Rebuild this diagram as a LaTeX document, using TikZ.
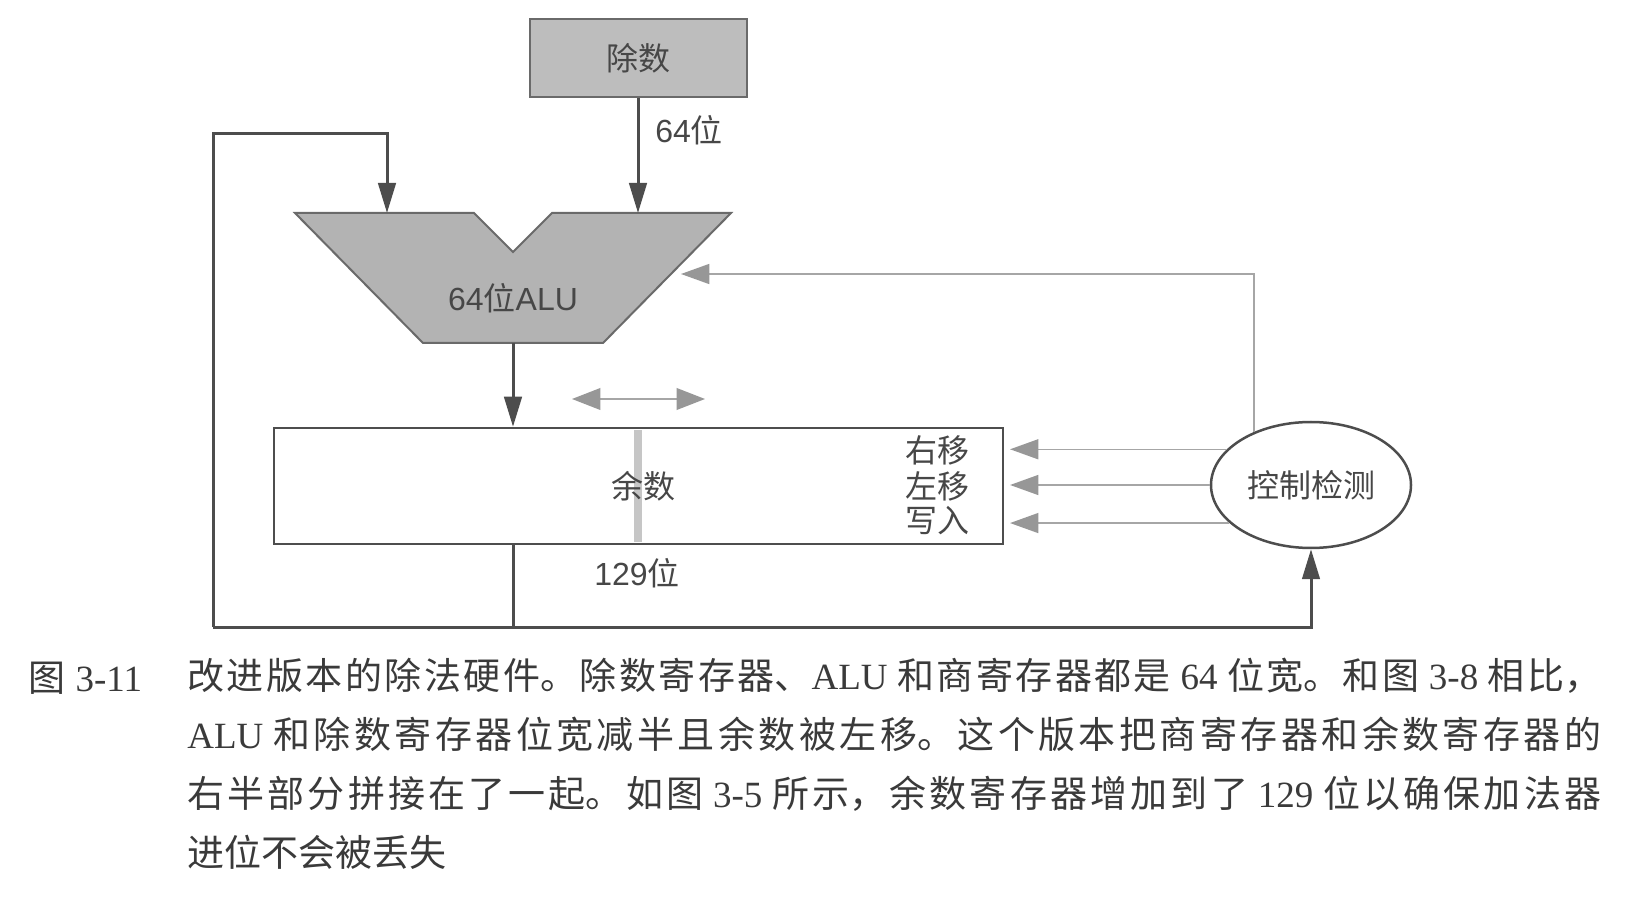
\documentclass[tikz,border=0pt]{standalone}
\usepackage{fontspec}
\setmainfont{Liberation Sans}
\newfontfamily\cjk{Noto Sans CJK SC}
\newfontfamily\ser{Liberation Serif}
\usetikzlibrary{arrows.meta,shapes.geometric}
\XeTeXlinebreaklocale "zh"
\XeTeXlinebreakskip=0pt plus 5pt
\definecolor{dk}{HTML}{4D4D4D}
\definecolor{edge}{HTML}{6A6A6A}
\definecolor{lt}{HTML}{A6A6A6}
\definecolor{ah}{HTML}{979797}
\definecolor{divfill}{HTML}{BDBDBD}
\definecolor{alufill}{HTML}{B3B3B3}
\definecolor{txt}{HTML}{474747}
\definecolor{barc}{HTML}{C6C6C6}
\definecolor{capc}{HTML}{3A3A3A}
\newcommand\zh[1]{{\cjk #1}}
\newcommand\se[1]{{\ser #1}}
\begin{document}
\begin{tikzpicture}[x=0.6pt,y=-0.6pt,
  dkline/.style={draw=dk,line width=1.8pt},
  ltline/.style={draw=lt,line width=0.9pt},
  dtip/.style={arrows={-Triangle[length=18pt,width=10.5pt]}},
  gtip/.style={arrows={-Triangle[length=17pt,width=12pt,color=ah]}},
  gboth/.style={arrows={Triangle[length=17pt,width=13pt,color=ah]-Triangle[length=17pt,width=13pt,color=ah]}},
  lbl/.style={text=txt,font=\fontsize{19.2pt}{22pt}\selectfont,inner sep=0pt},
]
\useasboundingbox[fill=white] (0,0) rectangle (1630,898);

% divisor
\node[lbl,draw=edge,line width=1.2pt,fill=divfill,minimum width=130.2pt,minimum height=46.8pt] (div) at (638,58) {\zh{除数}};
\node[lbl,anchor=west] (w64) at (655,130) {64\zh{位}};

% ALU
\path[draw=edge,line width=1.2pt,fill=alufill] (295,213) -- (474,213) -- (513,252) -- (552,213) -- (731,213) -- (603,343) -- (423,343) -- cycle;
\node[lbl] (alu) at (513,298) {64\zh{位}ALU};
\coordinate (aluin1) at (387,213);
\coordinate (aluin2) at (638,213);
\coordinate (aluout) at (513,343);
\coordinate (aluctl) at (681,274);

% remainder register
\node[draw=dk,line width=1.5pt,minimum width=437.4pt,minimum height=69.6pt,inner sep=0pt] (reg) at (638.5,486) {};
\fill[barc] (634,430) rectangle (642,542);
\node[lbl] (rem) at (643,486) {\zh{余数}};
\node[lbl] (w129) at (637,573) {129\zh{位}};
\node[lbl,anchor=east] (rs) at (970,450) {\zh{右移}};
\node[lbl,anchor=east] (ls) at (970,486) {\zh{左移}};
\node[lbl,anchor=east] (wr) at (970,521) {\zh{写入}};

% shift arrow
\coordinate (sl) at (572,399);
\coordinate (sr) at (705,399);
\draw[ltline,gboth] (sl) -- (sr);

% control
\node[lbl,ellipse,draw=dk,line width=1.5pt,minimum width=120pt,minimum height=75.6pt] (ctl) at (1311,485) {\zh{控制检测}};

% connectors
\coordinate (bl) at (213,627);
\coordinate (tl) at (213,134);
\coordinate (bm) at (513,627);
\draw[dkline,dtip] (div.south -| aluin2) -- (aluin2);
\draw[dkline,dtip] (bl) -- (tl) -| (aluin1);
\draw[dkline,dtip] (aluout) -- (aluout |- reg.north);
\draw[dkline] (aluout |- reg.south) -- (bm);
\draw[dkline,dtip] (bl) -| (ctl.south);
\draw[ltline,gtip] (ctl.137) |- (aluctl);
\draw[ltline,gtip,shorten >=3.5pt] (ctl.157) -- (reg.east |- ctl.157);
\draw[ltline,gtip,shorten >=3.5pt] (ctl.west) -- (reg.east |- ctl.west);
\draw[ltline,gtip,shorten >=3.5pt] (ctl.205) -- (reg.east |- ctl.205);

% caption
\node[anchor=base west,inner sep=0pt,text=capc,font=\fontsize{22.2pt}{35.4pt}\selectfont] (fig) at (28,691) {\zh{图} \se{3-11}};
\node[anchor=north west,inner sep=0pt,text width=848.4pt,align=justify,text=capc,font=\cjk\fontsize{22.2pt}{35.4pt}\selectfont] (cap) at (187,658) {\tolerance=9999 改进版本的除法硬件。除数寄存器、\se{ALU} 和商寄存器都是 \se{64} 位宽。和图 \se{3-8} 相比，\linebreak
\se{ALU} 和除数寄存器位宽减半且余数被左移。这个版本把商寄存器和余数寄存器的\linebreak
右半部分拼接在了一起。如图 \se{3-5} 所示，余数寄存器增加到了 \se{129} 位以确保加法器\linebreak
进位不会被丢失};
\end{tikzpicture}
\end{document}
